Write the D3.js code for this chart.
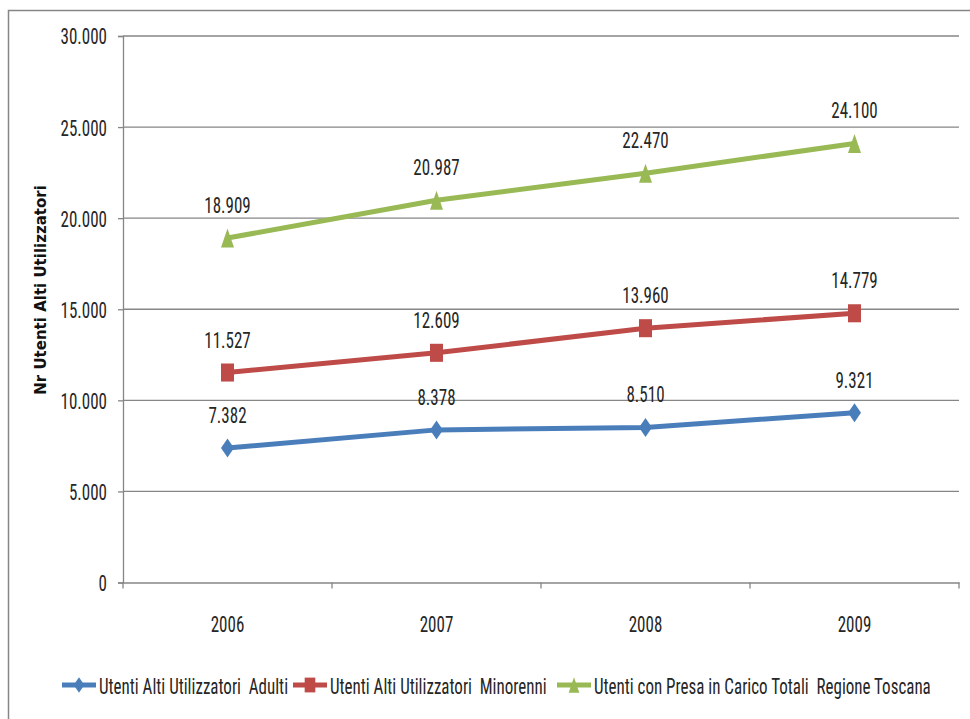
<!DOCTYPE html>
<html><head><meta charset="utf-8">
<script src="https://cdn.jsdelivr.net/npm/d3@7"></script>
<style>body{margin:0;background:#fff}svg{display:block}</style>
</head><body>
<svg id="c" width="970" height="719"></svg>
<script>
const years = ["2006","2007","2008","2009"];
const adulti = [7382, 8378, 8510, 9321];
const minorenni = [11527, 12609, 13960, 14779];
const totali = [18909, 20987, 22470, 24100];
const yTicks = [0,5000,10000,15000,20000,25000,30000];
const seriesNames = ["Utenti Alti Utilizzatori  Adulti","Utenti Alti Utilizzatori  Minorenni","Utenti con Presa in Carico Totali  Regione Toscana"];
const colors = ["#4a7ebb","#be4b48","#98b954"];
const yTitle = "Nr Utenti Alti Utilizzatori";

const font = "'Liberation Sans Narrow','Roboto Condensed','Open Sans',sans-serif";
const FS = 17, SY = 1.33;
const svg = d3.select("#c");
svg.append("rect").attr("x",8.5).attr("y",10.5).attr("width",980).attr("height",720)
  .attr("fill","none").attr("stroke","#868686").attr("stroke-width",1.5);

const L=123,R=959,T=36,B=582.5;
const x = d3.scaleBand().domain(years).range([L,R]);
const y = d3.scaleLinear().domain([0,30000]).range([B,T]);
const fmt = v => d3.format(",")(v).replace(/,/g,".");

function markerPath(i, k){
  const w = 6.5*k, h = 9.5*k;
  if(i===0) return `M0,${-h}L${w},0L0,${h}L${-w},0Z`;
  if(i===1) return `M${-w},${-h*0.95}H${w}V${h*0.95}H${-w}Z`;
  return `M0,${-h}L${w},${h}L${-w},${h}Z`;
}
function styleText(sel){
  sel.attr("font-family",font).attr("font-size",FS).attr("fill","#262626");
}

const g = svg.append("g");
g.selectAll(".grid").data(yTicks.filter(d=>d>0)).join("line")
  .attr("x1",L).attr("x2",R).attr("y1",d=>y(d)).attr("y2",d=>y(d))
  .attr("stroke","#868686").attr("stroke-width",1.3);

const ya = g.append("g").attr("transform",`translate(${L},0)`)
  .call(d3.axisLeft(y).tickValues(yTicks).tickFormat(fmt).tickSize(5).tickPadding(10));
ya.select(".domain").attr("stroke","#868686").attr("stroke-width",1.3);
ya.selectAll(".tick line").attr("stroke","#868686").attr("stroke-width",1.3);
ya.selectAll("text").call(styleText).attr("x",-16).attr("dy","0.35em")
  .attr("transform",`scale(1,${SY})`);

const xa = g.append("g").attr("transform",`translate(0,${B})`)
  .call(d3.axisBottom(x).tickSize(0).tickPadding(0));
xa.select(".domain").attr("stroke","#868686").attr("stroke-width",1.3);
xa.selectAll("text").call(styleText).attr("y",49.5/SY).attr("dy",null)
  .attr("transform",`scale(1,${SY})`);
g.selectAll(".xt").data(years.map(d=>x(d)).concat([R])).join("line")
  .attr("x1",d=>d).attr("x2",d=>d).attr("y1",B).attr("y2",B+6)
  .attr("stroke","#868686").attr("stroke-width",1.3);

svg.append("text").attr("transform","translate(46,290) rotate(-90)")
  .attr("text-anchor","middle").attr("font-family","'DejaVu Sans',Verdana,sans-serif")
  .attr("font-weight","bold").attr("font-size",15).attr("fill","#111").text(yTitle);

const cx = d => x(d)+x.bandwidth()/2;
const data = [adulti, minorenni, totali];
data.forEach((vals,i)=>{
  const pts = years.map((yr,j)=>[cx(yr), y(vals[j])]);
  g.append("path").attr("d",d3.line()(pts)).attr("fill","none")
    .attr("stroke",colors[i]).attr("stroke-width",5).attr("stroke-linejoin","round");
  g.selectAll(null).data(pts).join("path")
    .attr("transform",p=>`translate(${p[0]},${p[1]})`)
    .attr("d",markerPath(i,1)).attr("fill",colors[i]);
  g.selectAll(null).data(vals).join("text")
    .attr("transform",(v,j)=>`translate(${cx(years[j])},${y(v)-25}) scale(1,${SY})`)
    .attr("text-anchor","middle").call(styleText)
    .text(fmt);
});

const legX = [62, 293, 557];
seriesNames.forEach((n,i)=>{
  const lg = svg.append("g").attr("transform",`translate(${legX[i]},685)`);
  lg.append("line").attr("x1",0).attr("x2",34).attr("stroke",colors[i]).attr("stroke-width",5);
  lg.append("path").attr("transform","translate(17,0)")
    .attr("d",markerPath(i,0.82)).attr("fill",colors[i]);
  lg.append("text").attr("transform",`translate(37,9) scale(1,${SY})`).call(styleText)
    .style("white-space","pre").text(n);
});
</script>
</body></html>
